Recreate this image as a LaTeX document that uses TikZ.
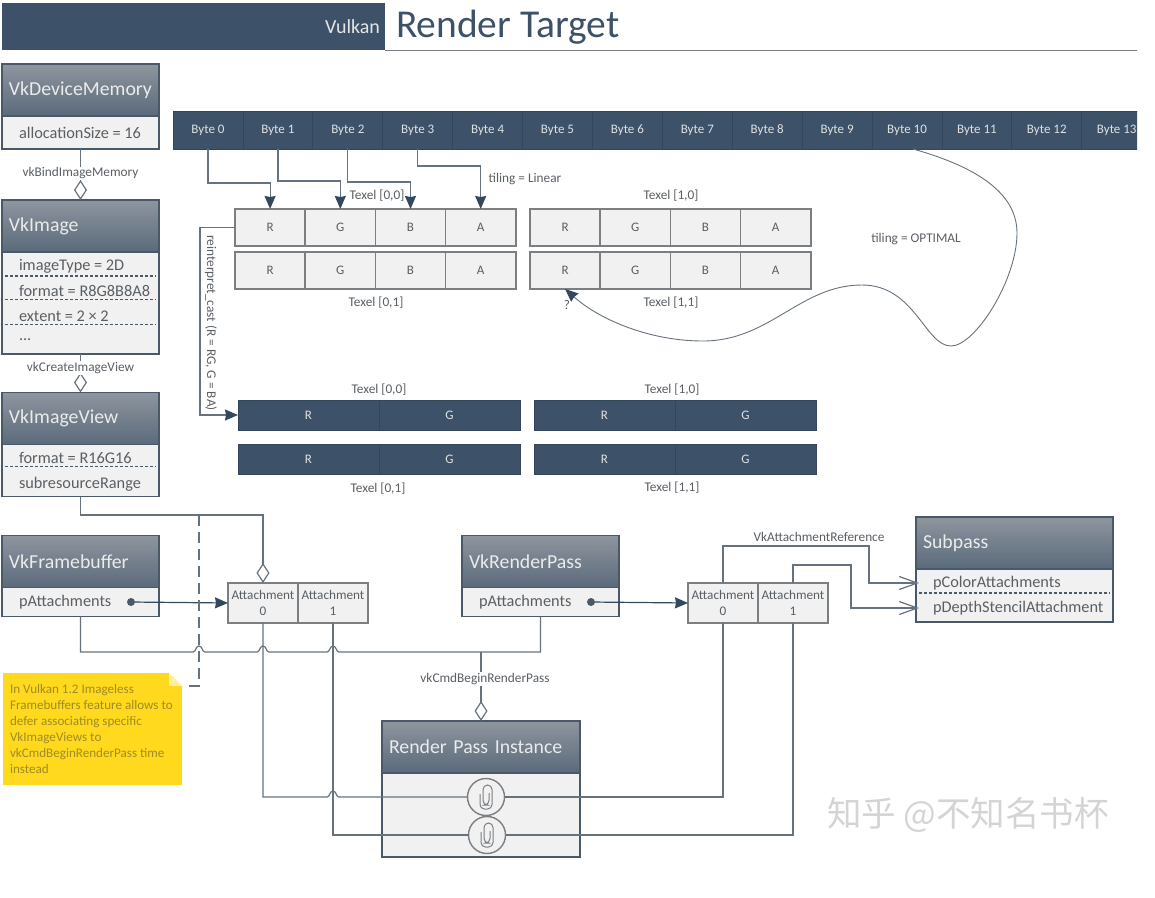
\documentclass[tikz,border=0pt]{standalone}
\usepackage{fontspec}
\setmainfont{Carlito}
\newfontfamily\cjkfont{Noto Sans CJK SC}
\usetikzlibrary{positioning,arrows.meta,shapes.geometric}

\definecolor{slate}{HTML}{3D5269}
\definecolor{headtop}{HTML}{8E959E}
\definecolor{headbot}{HTML}{5A6A7B}
\definecolor{edgeline}{HTML}{4A5968}
\definecolor{tipcol}{HTML}{34485C}
\definecolor{paper}{HTML}{F1F1F1}
\definecolor{cellline}{HTML}{7B7F82}
\definecolor{wirecol}{HTML}{66727E}
\definecolor{inkcol}{HTML}{5A5F64}
\definecolor{notefill}{HTML}{FFD91E}

\tikzset{
  every node/.style = {outer sep=0pt, text=inkcol},
  headbox/.style = {draw=edgeline, line width=1.6pt, top color=headtop, bottom color=headbot,
    minimum height=52, align=left, text width=143, inner xsep=7, text=white!92!black, font=\fontsize{19.8}{22}\selectfont},
  bodybox/.style = {draw=edgeline, line width=1.6pt, fill=paper, minimum width=157},
  fieldtext/.style = {anchor=west, inner sep=0pt, font=\fontsize{16.3}{18}\selectfont},
  sepline/.style = {densely dashed, line width=1.3pt, edgeline},
  bytecell/.style = {fill=slate, draw=slate!85!black, line width=.8pt, minimum width=69.9, minimum height=38,
    text=white!88!black, font=\fontsize{13}{15}\selectfont},
  texelcell/.style = {fill=paper, draw=cellline, line width=1.6pt, minimum width=70.2, minimum height=37,
    font=\fontsize{13}{15}\selectfont},
  darkcell/.style = {fill=slate, draw=slate!85!black, line width=.8pt, minimum width=141, minimum height=30,
    text=white!88!black, font=\fontsize{13}{15}\selectfont},
  attachcell/.style = {fill=paper, draw=cellline, line width=1.6pt, minimum width=70, minimum height=40,
    align=center, inner sep=0pt, font=\fontsize{13.2}{16}\selectfont},
  labeltext/.style = {inner sep=0pt, font=\fontsize{13.3}{15}\selectfont},
  wire/.style = {draw=wirecol, line width=1.2pt},
  arrowwire/.style = {wire, -{Stealth[length=13,width=11,inset=1,tipcol]}},
  diamondwire/.style = {wire, -{Diamond[length=20,width=13,fill=white]}},
  openwire/.style = {wire, -{Straight Barb[length=18,width=13]}},
  dotnode/.style = {circle, fill=edgeline, inner sep=0pt, minimum size=8},
  clipnode/.style = {circle, draw=cellline, line width=1.4pt, fill=paper, minimum size=37, inner sep=0pt},
  pics/clipglyph/.style = {code={
    \draw[cellline, line width=1pt, rounded corners=4.5]
      (-6,-3) -- (-6,12) -- (6,12) -- (6,-12) -- (-3,-12) -- (-3,8) -- (3,8) -- (3,-4);
  }}
}

% a little bridge where one line steps over another
\newcommand{\hopover}[2]{-- ({#1-6},#2) .. controls ({#1-3},#2) and ({#1-3.5},{#2-6}) .. (#1,{#2-6})
  .. controls ({#1+3.5},{#2-6}) and ({#1+3},#2) .. ({#1+6},#2)}

\begin{document}
\begin{tikzpicture}[x=1pt, y=-1pt]

  \useasboundingbox (0,0) rectangle (1155,897);

  % title band
  \node[fill=slate, minimum width=383, minimum height=47, anchor=north west, align=right,
        text width=373, inner xsep=5, text=white!90!black, font=\fontsize{20}{22}\selectfont] (band) at (2,3) {Vulkan};
  \node[anchor=west, inner sep=0pt, text=slate, font=\fontsize{39.5}{44}\selectfont] (title) at (396,27.5) {Render Target};
  \coordinate (bandend) at (1137,50);
  \draw[cellline, line width=1pt] (band.south east) -- (bandend);

  % object boxes down the left
  \node[headbox] (mem) at (80.5,90) {VkDeviceMemory};
  \node[bodybox, below=0pt of mem, minimum height=33] (memf) {};
  \node[fieldtext] (memsize) at (19,133) {allocationSize = 16};

  \node[headbox] (img) at (80.5,226) {VkImage};
  \node[bodybox, below=0pt of img, minimum height=102] (imgf) {};
  \node[fieldtext] (imgtype) at (19,266) {imageType = 2D};
  \node[fieldtext] (imgfmt) at (19,291) {format = R8G8B8A8};
  \node[fieldtext] (imgext) at (19,316) {extent = 2 × 2};
  \node[fieldtext] (imgmore) at (19,340) {...};
  \draw[sepline] (imgf.west |- imgtype.south) ++(3,3) -- ++(151,0);
  \draw[sepline] (imgf.west |- imgfmt.south) ++(3,3) -- ++(151,0);
  \draw[sepline] (imgf.west |- imgext.south) ++(3,3) -- ++(151,0);

  \node[headbox] (view) at (80.5,418.5) {VkImageView};
  \node[bodybox, below=0pt of view, minimum height=52] (viewf) {};
  \node[fieldtext] (viewfmt) at (19,458) {format = R16G16};
  \node[fieldtext] (viewrange) at (19,484) {subresourceRange};
  \draw[sepline] (viewf.west |- viewfmt.south) ++(3,3) -- ++(151,0);

  \node[headbox] (fb) at (80.5,561.5) {VkFramebuffer};
  \node[bodybox, below=0pt of fb, minimum height=29] (fbf) {};
  \node[fieldtext] (fbatt) at (19,602) {pAttachments};
  \node[dotnode] (fbdot) at (131,602) {};

  \node[headbox] (rp) at (540.5,561.5) {VkRenderPass};
  \node[bodybox, below=0pt of rp, minimum height=29] (rpf) {};
  \node[fieldtext] (rpatt) at (479,602) {pAttachments};
  \node[dotnode] (rpdot) at (591,602) {};

  \node[headbox, text width=183] (sub) at (1014.5,543) {Subpass};
  \node[bodybox, below=0pt of sub, minimum width=197, minimum height=53] (subf) {};
  \node[fieldtext] (subcol) at (933,583) {pColorAttachments};
  \node[fieldtext] (subdepth) at (933,608) {pDepthStencilAttachment};
  \draw[sepline] (subf.west |- subcol.south) ++(3,3) -- ++(191,0);

  \node[headbox, text width=184] (rpi) at (481,747) {Render Pass Instance};
  \node[bodybox, below=0pt of rpi, minimum width=198, minimum height=84] (rpif) {};

  % bytes
  \begin{scope}
    \clip (0,100) rectangle (1137,160);
    \foreach \i in {0,...,13}
      \node[bytecell] (b\i) at ({173+69.9*\i+35},130) {Byte \i};
  \end{scope}

  % texels seen as RGBA
  \foreach \t/\x/\y in {a00/235/227.5, a01/235/270.5, a10/530/227.5, a11/530/270.5}
    \foreach \c [count=\j from 0] in {R,G,B,A}
      \node[texelcell] (\t\c) at ({\x+35.1+70.2*\j},\y) {\c};

  % texels seen as RG
  \foreach \t/\x/\y in {d00/238/415, d01/238/459, d10/534/415, d11/534/459}
    \foreach \c [count=\j from 0] in {R,G}
      \node[darkcell] (\t\c) at ({\x+70.5+141*\j},\y) {\c};

  \node[labeltext] (ta00) at (377,196) {Texel [0,0]};
  \node[labeltext] (ta10) at (671,196) {Texel [1,0]};
  \node[labeltext] (ta01) at (376,303) {Texel [0,1]};
  \node[labeltext] (ta11) at (671,303) {Texel [1,1]};
  \node[labeltext] (td00) at (379,390) {Texel [0,0]};
  \node[labeltext] (td10) at (672,390) {Texel [1,0]};
  \node[labeltext] (td01) at (378,489) {Texel [0,1]};
  \node[labeltext] (td11) at (672,488) {Texel [1,1]};
  \node[labeltext] (linear) at (525,179) {tiling = Linear};
  \node[labeltext] (optimal) at (916,239) {tiling = OPTIMAL};
  \node[labeltext] (unknown) at (567,305) {?};
  \node[labeltext, rotate=-90] (cast) at (211,323) {reinterpret\_cast (R = RG, G = BA)};

  % bytes to channels
  \draw[arrowwire] (b0.south) -- ++(0,34) -| (a00R.north);
  \draw[arrowwire] (b1.south) -- ++(0,32) -| (a00G.north);
  \draw[arrowwire] (b2.south) -- ++(0,33) -| (a00B.north);
  \draw[arrowwire] (b3.south) -- ++(0,17) -| (a00A.north);
  \draw[arrowwire] (a00R.west) -- ++(-35,0) |- (d00R.west);
  \draw[arrowwire, line width=.9pt] (b10.south) ++(6,0)
    .. controls (970,165) and (1017,190) .. (1017,233)
    .. controls (1017,280) and (975,346) .. (951,346)
    .. controls (925,346) and (915,285) .. (862,285)
    .. controls (800,285) and (770,341) .. (703,341)
    .. controls (650,341) and (600,320) .. (a11R.south);

  % object links
  \draw[diamondwire] (memf.south) -- (img.north) node[labeltext, fill=white, pos=.48, inner ysep=1pt] (bindlab) {vkBindImageMemory};
  \draw[diamondwire] (imgf.south) -- (view.north) node[labeltext, fill=white, pos=.37, inner ysep=1pt] (viewlab) {vkCreateImageView};

  % attachments
  \node[attachcell] (fa0) at (263,603) {Attachment\\0};
  \node[attachcell, right=0pt of fa0] (fa1) {Attachment\\1};
  \node[attachcell] (ra0) at (723,603) {Attachment\\0};
  \node[attachcell, right=0pt of ra0] (ra1) {Attachment\\1};

  \coordinate (viewtap) at (199,515);
  \coordinate (notetap) at (185,686);
  \draw[diamondwire] (viewf.south) |- (viewtap) -| (fa0.north);
  \draw[arrowwire, tipcol] (fbdot) -- (fa0.west);
  \draw[arrowwire, tipcol] (rpdot) -- (ra0.west);

  % note
  \node[fill=notefill, anchor=north west, minimum width=179, minimum height=112, inner sep=0pt] (note) at (3,673) {};
  \fill[white] (note.north east) -- ++(-13,0) -- ++(13,13) -- cycle;
  \fill[notefill!45!white] (note.north east) ++(-13,0) -- ++(13,13) -- ++(-13,0) -- cycle;
  \node[anchor=north west, inner sep=0pt, align=left, text=black!35!notefill!85!gray, font=\fontsize{13.1}{16}\selectfont] (notetext) at (10,684)
    {In Vulkan 1.2 Imageless\\Framebuffers feature allows to\\defer associating specific\\VkImageViews to\\vkCmdBeginRenderPass time\\instead};
  \draw[wire, dashed, dash pattern=on 11pt off 6pt, line width=1.4pt] (viewtap) |- (notetap);

  \coordinate (beginjoin) at (481,652);
  \draw[wire] (fbf.south) |- (193,652) \hopover{199}{652} \hopover{263}{652} \hopover{333}{652} -| (rpf.south);
  \draw[diamondwire] (beginjoin) -- (rpi.north) node[labeltext, fill=white, pos=.39, inner ysep=1pt, xshift=4] (beginlab) {vkCmdBeginRenderPass};

  % paper clips in the instance
  \node[clipnode] (clip0) at (486,797) {};
  \node[clipnode] (clip1) at (487,835) {};
  \pic at (clip0) {clipglyph};
  \pic at (clip1) {clipglyph};
  \draw[wire] (fa0.south) |- (327,797) \hopover{333}{797} -- (clip0.west);
  \draw[wire] (clip0.east) -| (ra0.south);
  \draw[wire] (fa1.south) |- (clip1.west);
  \draw[wire] (clip1.east) -| (ra1.south);

  % subpass references
  \draw[openwire] (ra0.north) -- ++(0,-37) -| (869,575) |- ([xshift=-14]subcol.west);
  \draw[openwire] (ra1.north) -- ++(0,-18) -| (851,590) |- ([xshift=-14]subdepth.west);
  \node[labeltext] (reflab) at (819,537) {VkAttachmentReference};

  % watermark
  \node[text=black!17, font=\cjkfont\fontsize{34.5}{38}\selectfont] (mark) at (968,815) {知乎 @不知名书杯};

\end{tikzpicture}
\end{document}
